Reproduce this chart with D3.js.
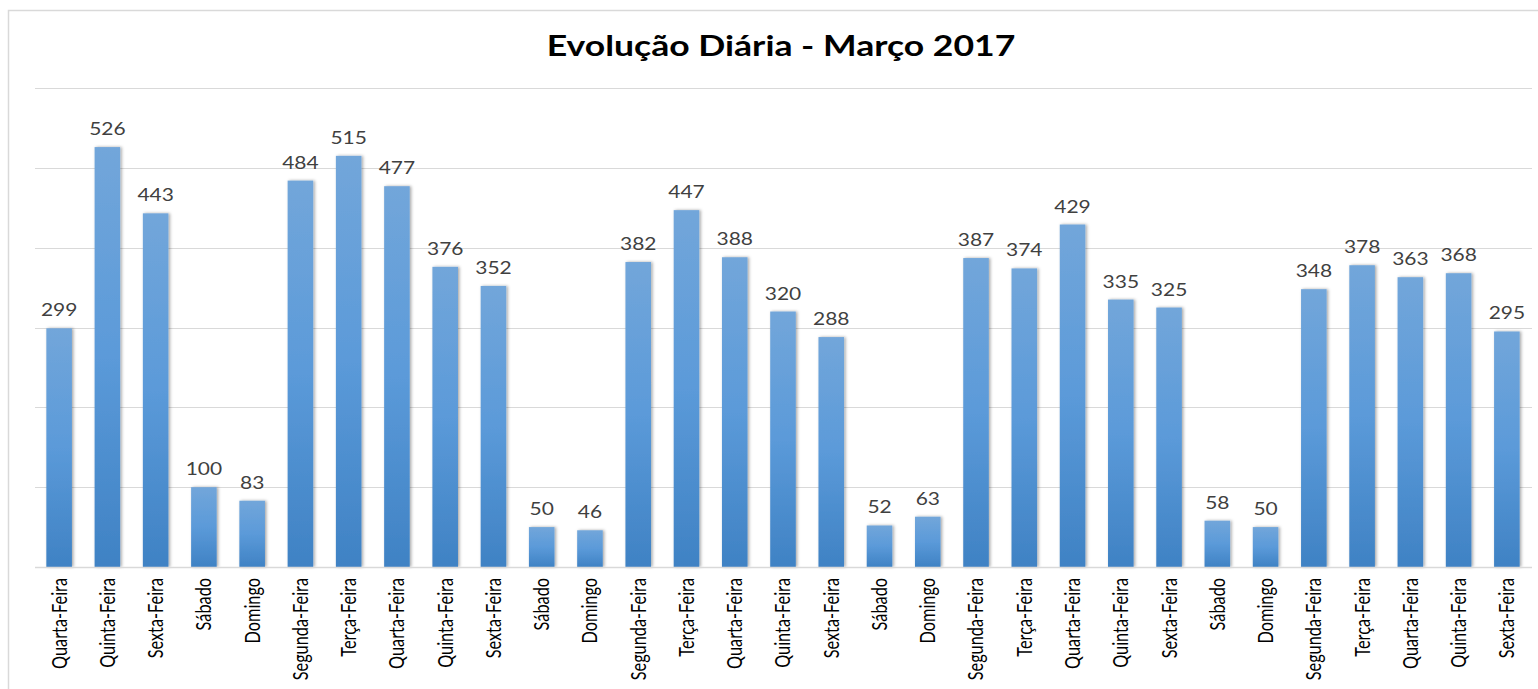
<!DOCTYPE html>
<html><head><meta charset="utf-8">
<script src="https://cdn.jsdelivr.net/npm/d3@7/dist/d3.min.js"></script>
<style>html,body{margin:0;padding:0;background:#fff;}svg{display:block;}</style>
</head><body>
<script>
const days = ["Quarta-Feira","Quinta-Feira","Sexta-Feira","Sábado","Domingo","Segunda-Feira","Terça-Feira","Quarta-Feira","Quinta-Feira","Sexta-Feira","Sábado","Domingo","Segunda-Feira","Terça-Feira","Quarta-Feira","Quinta-Feira","Sexta-Feira","Sábado","Domingo","Segunda-Feira","Terça-Feira","Quarta-Feira","Quinta-Feira","Sexta-Feira","Sábado","Domingo","Segunda-Feira","Terça-Feira","Quarta-Feira","Quinta-Feira","Sexta-Feira"];
const values = [299,526,443,100,83,484,515,477,376,352,50,46,382,447,388,320,288,52,63,387,374,429,335,325,58,50,348,378,363,368,295];
const gridTicks = [0,100,200,300,400,500,600];
const title = "Evolução Diária - Março 2017";

const W = 1538, H = 689;
const SX = 1.27; // horizontal stretch of the original image
const svg = d3.select("body").append("svg").attr("width", W).attr("height", H);
const font = "Lato, 'Open Sans', sans-serif";

svg.append("rect").attr("x",8.5).attr("y",10.5).attr("width",W).attr("height",H)
  .attr("fill","#fff").attr("stroke","#d9d9d9").attr("stroke-width",1.5);

const defs = svg.append("defs");
const grad = defs.append("linearGradient").attr("id","bg").attr("x1",0).attr("y1",0).attr("x2",0).attr("y2",1);
grad.append("stop").attr("offset","0%").attr("stop-color","#72a6da");
grad.append("stop").attr("offset","50%").attr("stop-color","#5b9ad9");
grad.append("stop").attr("offset","100%").attr("stop-color","#3f82c4");
const f = defs.append("filter").attr("id","sh").attr("x","-30%").attr("y","-10%").attr("width","160%").attr("height","120%");
f.append("feDropShadow").attr("dx",1.5).attr("dy",0).attr("stdDeviation",1.5).attr("flood-color","#000").attr("flood-opacity",0.35);

const x = d3.scaleBand().domain(d3.range(values.length)).range([35,1531]).paddingInner(0.47).paddingOuter(0.235);
const y = d3.scaleLinear().domain([0,600]).range([567,88]);

svg.append("g").selectAll("line").data(gridTicks.slice(1)).join("line")
  .attr("x1",35).attr("x2",1532).attr("y1",d=>Math.round(y(d))+0.5).attr("y2",d=>Math.round(y(d))+0.5)
  .attr("stroke","#d9d9d9").attr("stroke-width",1);

svg.append("g").selectAll("rect").data(values).join("rect")
  .attr("x",(d,i)=>x(i)).attr("width",x.bandwidth())
  .attr("y",d=>y(d)).attr("height",d=>y(0)-y(d))
  .attr("fill","url(#bg)").attr("filter","url(#sh)");

const xAxis = d3.axisBottom(x).tickSize(0).tickFormat(i=>days[i]);
const gx = svg.append("g").attr("transform",`translate(0,${y(0)})`).call(xAxis);
gx.select(".domain").attr("stroke","#d9d9d9").attr("stroke-width",1.5).attr("d","M35,0.5H1532");
gx.selectAll("text").attr("font-family",font).attr("font-size","16.3px").attr("fill","#000")
  .attr("transform",`scale(${SX},1) rotate(-90)`).attr("text-anchor","end").attr("dy","0.36em").attr("x",-11).attr("y",0);

svg.append("g").selectAll("text").data(values).join("text")
  .attr("transform",(d,i)=>`translate(${x(i)+x.bandwidth()/2},${y(d)-12}) scale(${SX},1)`)
  .attr("text-anchor","middle").attr("font-family",font).attr("font-size","16.5px").attr("fill","#404040")
  .text(d=>d);

svg.append("text").attr("transform",`translate(781,56) scale(${SX},1)`).attr("text-anchor","middle")
  .attr("font-family",font).attr("font-weight","bold").attr("font-size","28px").attr("fill","#000")
  .text(title);
</script>
</body></html>
